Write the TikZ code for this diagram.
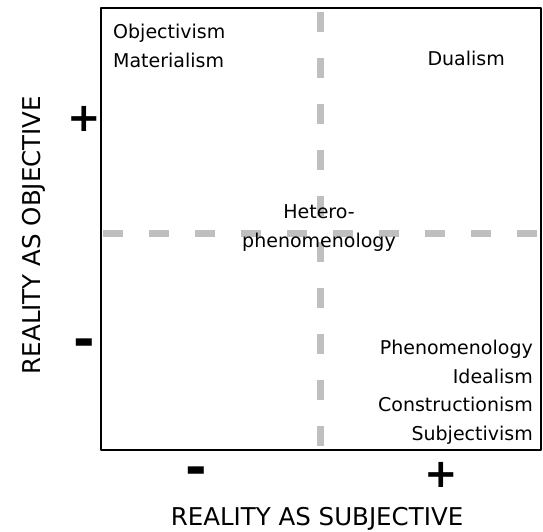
\documentclass[tikz,border=0pt]{standalone}
\usepackage{fontspec}
\setmainfont{DejaVu Sans}
\usepackage{tikz}
\usetikzlibrary{positioning}

\tikzset{
    quad/.style={font=\fontsize{19}{28.5}\selectfont, inner sep=0pt},
    axislabel/.style={font=\fontsize{24.5}{26}\selectfont, inner sep=0pt},
    sign/.style={font=\bfseries\fontsize{40}{40}\selectfont, inner sep=0pt},
    cross/.style={color=gray!50, line width=7pt, dash pattern=on 20pt off 26pt}
}

\begin{document}
\begin{tikzpicture}[x=1pt, y=-1pt, line join = round]
    \useasboundingbox (0,0) rectangle (543,531);
    \coordinate (nw) at (101,8);
    \coordinate (se) at (541,450);
    \coordinate (top) at (320.5,8);
    \coordinate (bottom) at (320.5,450);
    \coordinate (left) at (101,233);
    \coordinate (right) at (541,233);

    % dashed axes of the quadrants
    \draw[cross, dash phase=42pt] (top) -- (bottom);
    \draw[cross, dash phase=44pt] (left) -- (right);
    \draw[line width=2pt] (nw) rectangle (se);

    % quadrant texts (base = last line)
    \node[quad, anchor=base west, align=left] (objmat) at (113,67) {Objectivism\\Materialism};
    \node[quad, anchor=base east] (dual) at (505,65) {Dualism};
    \node[quad, anchor=base, align=center] (hetero) at (319,247) {Hetero-\\phenomenology};
    \node[quad, anchor=base east, align=right] (phen) at (533,440) {Phenomenology\\Idealism\\Constructionism\\Subjectivism};

    % signs
    \node[sign] (plusobj) at (84,119) {+};
    \node[sign, font=\bfseries\fontsize{52}{52}\selectfont] (minusobj) at (84.5,348.5) {-};
    \node[sign, font=\bfseries\fontsize{52}{52}\selectfont] (minussubj) at (196,476) {-};
    \node[sign] (plussubj) at (441,475) {+};

    % axis names
    \node[axislabel, rotate=90, anchor=base] (labelobj) at (40,235) {REALITY AS OBJECTIVE};
    \node[axislabel, anchor=base] (labelsubj) at (317,525) {REALITY AS SUBJECTIVE};
\end{tikzpicture}
\end{document}
